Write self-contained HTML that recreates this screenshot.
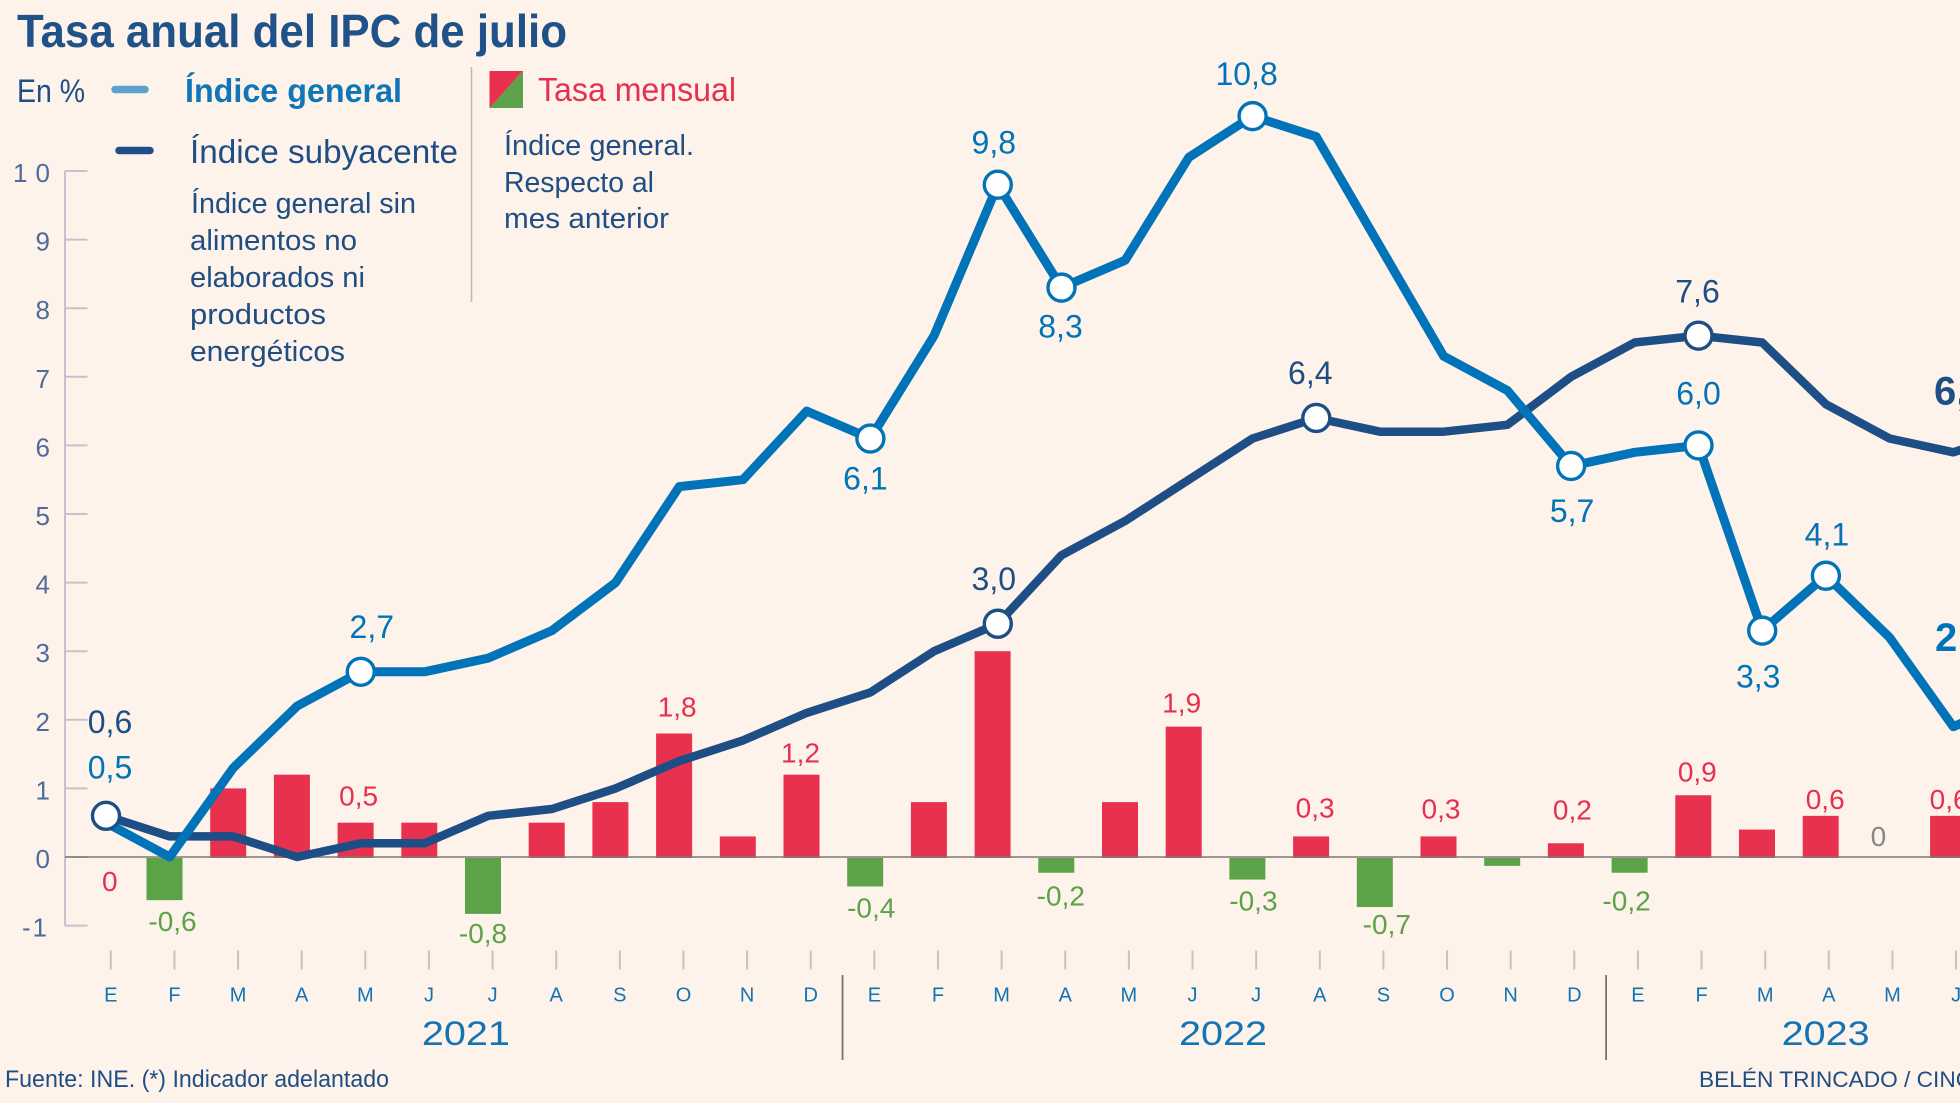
<!DOCTYPE html>
<html lang="es">
<head>
<meta charset="utf-8">
<title>Tasa anual del IPC de julio</title>
<style>
html,body{margin:0;padding:0;background:#fef3ea;width:1960px;height:1103px;overflow:hidden}
svg{display:block;font-family:"Liberation Sans",sans-serif}
</style>
</head>
<body>
<svg id="chart" xmlns="http://www.w3.org/2000/svg" width="1960" height="1103" viewBox="0 0 1960 1103">
  <rect width="1960" height="1103" fill="#fef3ea"/>
  <text x="17" y="47" font-size="46" font-weight="700" fill="#1f5288" textLength="550" lengthAdjust="spacingAndGlyphs">Tasa anual del IPC de julio</text>
  <text x="17" y="102" font-size="32" fill="#1f4e84" textLength="68" lengthAdjust="spacingAndGlyphs">En %</text>

  <g>
    <line x1="115" y1="89.5" x2="145" y2="89.5" stroke="#5aa2cc" stroke-width="7.5" stroke-linecap="round"/>
    <text x="185" y="102" font-size="33" font-weight="700" fill="#0f76b8" textLength="217" lengthAdjust="spacingAndGlyphs">Índice general</text>
    <line x1="119" y1="150.5" x2="150" y2="150.5" stroke="#1f4f8a" stroke-width="7.5" stroke-linecap="round"/>
    <text x="190" y="163" font-size="33" fill="#1f4e84" textLength="268" lengthAdjust="spacingAndGlyphs">Índice subyacente</text>
    <g font-size="28.5" fill="#1f4e84">
      <text x="191" y="213" textLength="225" lengthAdjust="spacingAndGlyphs">Índice general sin</text>
      <text x="190" y="250" textLength="167" lengthAdjust="spacingAndGlyphs">alimentos no</text>
      <text x="190" y="287" textLength="175" lengthAdjust="spacingAndGlyphs">elaborados ni</text>
      <text x="190" y="324" textLength="136" lengthAdjust="spacingAndGlyphs">productos</text>
      <text x="190" y="361" textLength="155" lengthAdjust="spacingAndGlyphs">energéticos</text>
    </g>
    <line x1="471.5" y1="67" x2="471.5" y2="302" stroke="#bdb9b8" stroke-width="1.6"/>
    <g>
      <polygon points="489.5,71 523,71 489.5,108" fill="#e8304f"/>
      <polygon points="523,71 523,108 489.5,108" fill="#5ca248"/>
    </g>
    <text x="538" y="101" font-size="33" fill="#e5304e" textLength="198" lengthAdjust="spacingAndGlyphs">Tasa mensual</text>
    <g font-size="28.5" fill="#1f4e84">
      <text x="504" y="155" textLength="190" lengthAdjust="spacingAndGlyphs">Índice general.</text>
      <text x="504" y="192" textLength="150" lengthAdjust="spacingAndGlyphs">Respecto al</text>
      <text x="504" y="228" textLength="165" lengthAdjust="spacingAndGlyphs">mes anterior</text>
    </g>
  </g>

  <g id="y-axis"></g>
  <g id="bars"></g>
  <g id="zero"></g>
  <g id="lines"></g>
  <g id="points"></g>
  <g id="labels"></g>
  <g id="x-axis"></g>

  <text x="5" y="1087" font-size="24" fill="#1f4e84" textLength="384" lengthAdjust="spacingAndGlyphs">Fuente: INE. (*) Indicador adelantado</text>
  <text x="1699" y="1087" font-size="22" fill="#1f4e84" textLength="350" lengthAdjust="spacingAndGlyphs">BELÉN TRINCADO / CINCO DÍAS</text>
</svg>

<script>
const months = ['E','F','M','A','M','J','J','A','S','O','N','D','E','F','M','A','M','J','J','A','S','O','N','D','E','F','M','A','M','J'];
const years = ['2021','2022','2023'];
const yTicks = [10,9,8,7,6,5,4,3,2,1,0,-1];
const generalValues = [0.5,0,1.3,2.2,2.7,2.7,2.9,3.3,4.0,5.4,5.5,6.5,6.1,7.6,9.8,8.3,8.7,10.2,10.8,10.5,8.9,7.3,6.8,5.7,5.9,6.0,3.3,4.1,3.2,1.9,2.3];
const coreValues = [0.6,0.3,0.3,0,0.2,0.2,0.6,0.7,1.0,1.4,1.7,2.1,2.4,3.0,3.4,4.4,4.9,5.5,6.1,6.4,6.2,6.2,6.3,7.0,7.5,7.6,7.5,6.6,6.1,5.9,6.2];
const monthlyValues = [0,-0.6,1.0,1.2,0.5,0.5,-0.8,0.5,0.8,1.8,0.3,1.2,-0.4,0.8,3.0,-0.2,0.8,1.9,-0.3,0.3,-0.7,0.3,-0.1,0.2,-0.2,0.9,0.4,0.6,0,0.6];
const generalMarkedMonths = [4,12,14,15,18,23,25,26,27];
const coreMarkedMonths = [0,14,19,25];
const generalPrinted = {0:'0,5',4:'2,7',12:'6,1',14:'9,8',15:'8,3',18:'10,8',23:'5,7',25:'6,0',26:'3,3',27:'4,1',30:'2,3'};
const corePrinted = {0:'0,6',14:'3,0',19:'6,4',25:'7,6',30:'6,2'};
const monthlyPrinted = {0:'0',1:'-0,6',4:'0,5',6:'-0,8',9:'1,8',11:'1,2',12:'-0,4',15:'-0,2',17:'1,9',18:'-0,3',19:'0,3',20:'-0,7',21:'0,3',23:'0,2',24:'-0,2',25:'0,9',27:'0,6',28:'0',29:'0,6'};

/* layout only: label offsets from their marks, in pixels */
const generalNudge = {0:[4,-44],4:[11,-34],12:[-5,51],14:[-4,-31],15:[-1,50],18:[-6,-31],23:[1,56],25:[0,-41],26:[-4,57],27:[1,-30],30:[0,-48]};
const coreNudge = {0:[4,-83],14:[-4,-34],19:[-6,-34],25:[-1,-33],30:[0,-27]};
const monthlyNudge = {0:[9,34],1:[8,33],4:[3,-17],6:[0,31],9:[3,-17],11:[-1,-12],12:[6,33],15:[4.5,35],17:[-2,-14],18:[6,33],19:[4,-19],20:[12,29],21:[2.5,-18],23:[6.5,-24],24:[-3,40],25:[4,-14],27:[4.5,-7],28:[-6,-11],29:[1,-7]};
const yearCentres = [5.58,17.48,26.95];
const yearSeparators = [11.5,23.5];

const NS = 'http://www.w3.org/2000/svg';
const navy = '#1d4e85', blue = '#0073b9', red = '#e5304e', green = '#5ca248', grey = '#8a8580';
function x(i){ return 106 + 63.7 * i; }
function barX(i){ return 100.8 + 63.7 * i; }
function tickX(i){ return 110.8 + 63.63 * i; }
function y(v){ return 857 - 68.6 * v; }
function make(tag, attrs, parent, txt){
  const el = document.createElementNS(NS, tag);
  for (const k in attrs) el.setAttribute(k, attrs[k]);
  if (txt !== undefined) el.textContent = txt;
  parent.appendChild(el);
  return el;
}

/* y axis */
const yAxisG = document.getElementById('y-axis');
const yAxisLine = make('line', {x1:65,x2:65,y1:y(10),y2:y(-1),stroke:'#c9c0cd','stroke-width':2}, yAxisG);


yTicks.forEach(function(t){
  const tick = make('line', {x1:65,x2:87.5,y1:y(t),y2:y(t),stroke:'#c9c0cd','stroke-width':2}, yAxisG);
  
  
  const attrs = {x:50,y:y(t)+11,'text-anchor':'end','font-size':26,fill:'#4f6a9c'};
  if (t === 10) { attrs.textLength = 37; attrs.lengthAdjust = 'spacing'; }
  if (t === -1) { attrs.x = 47; attrs.textLength = 25; attrs.lengthAdjust = 'spacing'; }
  const label = make('text', attrs, yAxisG, String(t));
  
  
});

/* monthly bars */
const barsG = document.getElementById('bars');
monthlyValues.forEach(function(v, i){
  if (v === 0) return;
  const top = Math.min(y(v), y(0)+1);
  const bar = make('rect', {x:barX(i)-18,y:top,width:36,height:Math.abs(y(v)-y(0))+1,fill:v>0?'#e8304f':green}, barsG);
  
  
});

const zeroLine = make('line', {x1:65,x2:1960,y1:y(0),y2:y(0),stroke:'#7d7875','stroke-width':1.6}, document.getElementById('zero'));



/* lines */
const linesG = document.getElementById('lines');
function pathOf(vals){ return vals.map(function(v,i){ return (i?'L':'M') + x(i).toFixed(1) + ' ' + y(v).toFixed(1); }).join(' '); }
const coreLine = make('path', {d:pathOf(coreValues),fill:'none',stroke:navy,'stroke-width':8.5,'stroke-linejoin':'round','stroke-linecap':'round'}, linesG);


const generalLine = make('path', {d:pathOf(generalValues),fill:'none',stroke:blue,'stroke-width':9,'stroke-linejoin':'round','stroke-linecap':'round'}, linesG);



/* highlighted points */
const pointsG = document.getElementById('points');
generalMarkedMonths.forEach(function(i){
  const c = make('circle', {cx:x(i),cy:y(generalValues[i]),r:13.5,fill:'#fff',stroke:blue,'stroke-width':3.4}, pointsG);
  
  
});
coreMarkedMonths.forEach(function(i){
  const c = make('circle', {cx:x(i),cy:y(coreValues[i]),r:13.5,fill:'#fff',stroke:navy,'stroke-width':3.4}, pointsG);
  
  
});

/* value labels */
const labelsG = document.getElementById('labels');
Object.keys(generalPrinted).forEach(function(k){
  const i = +k, n = generalNudge[i], last = i === 30;
  const t = make('text', {x:last?1935:x(i)+n[0],y:y(generalValues[i])+n[1],'text-anchor':last?'start':'middle','font-size':last?40:32,'font-weight':last?700:400,fill:blue}, labelsG, generalPrinted[k]);
  
  
});
Object.keys(corePrinted).forEach(function(k){
  const i = +k, n = coreNudge[i], last = i === 30;
  const t = make('text', {x:last?1934:x(i)+n[0],y:y(coreValues[i])+n[1],'text-anchor':last?'start':'middle','font-size':last?40:32,'font-weight':last?700:400,fill:navy}, labelsG, corePrinted[k]);
  
  
});
Object.keys(monthlyPrinted).forEach(function(k){
  const i = +k, n = monthlyNudge[i], v = monthlyValues[i];
  const colour = i === 28 ? grey : (v < 0 ? green : red);
  const t = make('text', {x:barX(i)+n[0],y:y(v)+n[1],'text-anchor':'middle','font-size':28,fill:colour}, labelsG, monthlyPrinted[k]);
  
  
});

/* x axis */
const xAxisG = document.getElementById('x-axis');
months.forEach(function(m, i){
  const tick = make('line', {x1:tickX(i),x2:tickX(i),y1:950.5,y2:969.5,stroke:'#c9c0c6','stroke-width':2}, xAxisG);
  
  
  const label = make('text', {x:tickX(i),y:1001.5,'text-anchor':'middle','font-size':20,fill:'#1273b5'}, xAxisG, m);
  
  
});
years.forEach(function(yr, j){
  const label = make('text', {x:tickX(yearCentres[j]),y:1045,'text-anchor':'middle','font-size':34,fill:'#1273b5',textLength:88,lengthAdjust:'spacingAndGlyphs'}, xAxisG, yr);
  
  
});
yearSeparators.forEach(function(p){
  const sep = make('line', {x1:tickX(p),x2:tickX(p),y1:975,y2:1060,stroke:'#77736f','stroke-width':1.8}, xAxisG);
  
  
});
</script>
</body>
</html>
